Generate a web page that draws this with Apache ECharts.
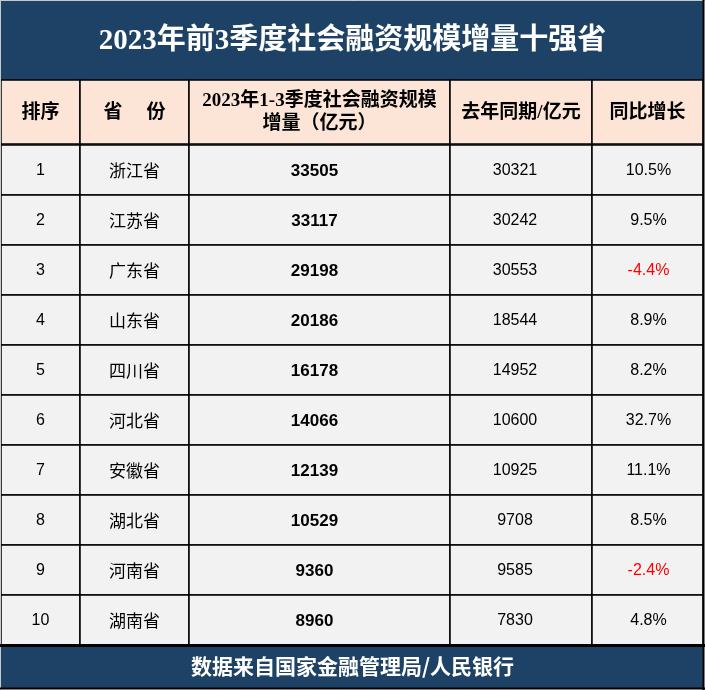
<!DOCTYPE html>
<html><head><meta charset="utf-8">
<script src="https://cdn.jsdelivr.net/npm/echarts@6/dist/echarts.min.js"></script>
<style>html,body{margin:0;padding:0;background:#fff}#c{width:705px;height:690px}</style>
</head><body><div id="c"></div>
<script>
// ---- data ----
const titleText = '2023年前3季度社会融资规模增量十强省';
const footerText = '数据来自国家金融管理局/人民银行';
const headers = ['排序', '省\u3000 份', '2023年1-3季度社会融资规模\n增量（亿元）', '去年同期/亿元', '同比增长'];
const ranks = [1, 2, 3, 4, 5, 6, 7, 8, 9, 10];
const provinces = ['浙江省', '江苏省', '广东省', '山东省', '四川省', '河北省', '安徽省', '湖北省', '河南省', '湖南省'];
const increase2023 = [33505, 33117, 29198, 20186, 16178, 14066, 12139, 10529, 9360, 8960];
const lastYear = [30321, 30242, 30553, 18544, 14952, 10600, 10925, 9708, 9585, 7830];
const yoyGrowth = [10.5, 9.5, -4.4, 8.9, 8.2, 32.7, 11.1, 8.5, -2.4, 4.8];

// ---- layout / style ----
const colEdges = [1, 80, 189, 450, 592, 703];
const BAND = '#1e4265';
const HEAD_BG = '#fce4d6';
const CELL_BG = '#f2f2f2';
const LINE_W = 1.5;
const cjk = '"Noto Sans CJK SC"';
const serifMix = '"Liberation Serif", "Noto Sans CJK SC"';
const sans = '"Liberation Sans", "Noto Sans CJK SC"';
const colFonts = [
  '16px ' + sans,
  '17px ' + cjk,
  'bold 17px ' + sans,
  '16px ' + sans,
  '16px ' + sans
];
const colOffsets = [0, 0, -5, -6, 1];

function fmtPct(v) { return v.toFixed(1) + '%'; }

function cellGroup(api, rowIdx, texts, fonts, fill, colors) {
  const c = api.coord([0, rowIdx]);
  const h = api.size([0, 1])[1];
  const yTop = c[1] - h / 2;
  const children = [];
  for (let j = 0; j < texts.length; j++) {
    const x0 = api.coord([colEdges[j], rowIdx])[0];
    const x1 = api.coord([colEdges[j + 1], rowIdx])[0];
    children.push({
      type: 'rect',
      shape: { x: x0, y: yTop, width: x1 - x0, height: h },
      style: { fill: fill, stroke: '#000', lineWidth: LINE_W }
    });
  }
  for (let j = 0; j < texts.length; j++) {
    const x0 = api.coord([colEdges[j], rowIdx])[0];
    const x1 = api.coord([colEdges[j + 1], rowIdx])[0];
    children.push({
      type: 'text',
      style: {
        text: texts[j], x: (x0 + x1) / 2 + (fonts === colFonts ? colOffsets[j] : 0), y: c[1] + 1,
        align: 'center', verticalAlign: 'middle',
        font: Array.isArray(fonts) ? fonts[j] : fonts,
        fill: colors ? colors[j] : '#000',
        lineHeight: 23
      }
    });
  }
  return { type: 'group', children: children };
}

const chart = echarts.init(document.getElementById('c'), null, { renderer: 'canvas' });
chart.setOption({
  backgroundColor: '#fff',
  animation: false,
  title: [
    { text: titleText, left: 'center', top: 27, padding: 0,
      textStyle: { color: '#fff', fontSize: 29, fontWeight: 'bold', fontFamily: serifMix } },
    { text: footerText, left: 'center', top: 656, padding: 0,
      textStyle: { color: '#fff', fontSize: 21, fontWeight: 'bold', fontFamily: cjk } }
  ],
  graphic: [
    { type: 'rect', z: 0, shape: { x: 0, y: 0, width: 705, height: 690 }, style: { fill: '#fff' } },
    { type: 'rect', z: 1, shape: { x: 1, y: 1, width: 702, height: 79 }, style: { fill: BAND } },
    { type: 'rect', z: 1, shape: { x: 1, y: 645, width: 702, height: 44 }, style: { fill: BAND } },
    { type: 'line', z: 10, shape: { x1: 0, y1: 0.5, x2: 705, y2: 0.5 }, style: { stroke: '#c8c8c8', lineWidth: 1 } },
    { type: 'line', z: 10, shape: { x1: 0.5, y1: 0, x2: 0.5, y2: 690 }, style: { stroke: '#c8c8c8', lineWidth: 1 } },
    { type: 'line', z: 10, shape: { x1: 703.5, y1: 0, x2: 703.5, y2: 690 }, style: { stroke: '#000', lineWidth: 2 } },
    { type: 'line', z: 10, shape: { x1: 0, y1: 688.5, x2: 705, y2: 688.5 }, style: { stroke: '#000', lineWidth: 2 } },
    { type: 'line', z: 10, shape: { x1: 0, y1: 645.5, x2: 705, y2: 645.5 }, style: { stroke: '#000', lineWidth: 3 } }
  ],
  grid: [
    { left: 0, right: 0, top: 80, height: 64 },
    { left: 0, right: 0, top: 145, height: 500 }
  ],
  xAxis: [
    { type: 'value', gridIndex: 0, min: 0, max: 705, show: false },
    { type: 'value', gridIndex: 1, min: 0, max: 705, show: false }
  ],
  yAxis: [
    { type: 'category', gridIndex: 0, data: ['header'], show: false },
    { type: 'category', gridIndex: 1, data: provinces, inverse: true, show: false }
  ],
  series: [
    {
      type: 'custom', xAxisIndex: 0, yAxisIndex: 0, z: 5, silent: true,
      data: [[0, 0]],
      renderItem: function (params, api) {
        return cellGroup(api, 0, headers, 'bold 19px ' + serifMix, HEAD_BG, null);
      }
    },
    {
      type: 'custom', xAxisIndex: 1, yAxisIndex: 1, z: 5, silent: true,
      data: provinces.map(function (p, i) { return [0, i]; }),
      renderItem: function (params, api) {
        const i = params.dataIndex;
        const texts = [String(ranks[i]), provinces[i], String(increase2023[i]), String(lastYear[i]), fmtPct(yoyGrowth[i])];
        const colors = ['#000', '#000', '#000', '#000', yoyGrowth[i] < 0 ? '#ff0000' : '#000'];
        return cellGroup(api, i, texts, colFonts, CELL_BG, colors);
      }
    }
  ]
});
</script>
</body></html>
